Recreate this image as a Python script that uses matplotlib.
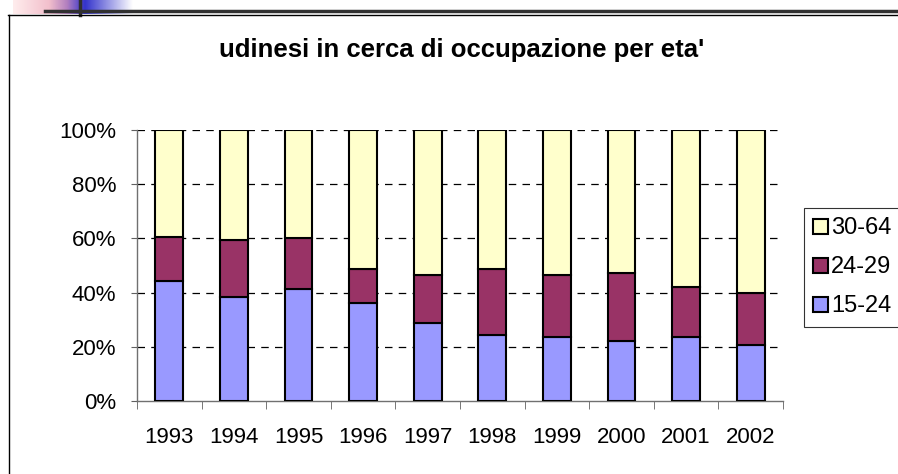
import numpy as np
import matplotlib
matplotlib.use("Agg")
import matplotlib.pyplot as plt
from matplotlib.lines import Line2D
from matplotlib.patches import Patch

plt.rcParams['font.family'] = ['Liberation Sans', 'DejaVu Sans']

years = ['1993', '1994', '1995', '1996', '1997', '1998', '1999', '2000', '2001', '2002']
# cumulative tops (percent)
top_15_24 = [44.2, 38.3, 41.2, 36.2, 28.6, 24.3, 23.6, 22.1, 23.6, 20.6]
top_24_29 = [60.6, 59.3, 60.0, 48.8, 46.6, 48.8, 46.6, 47.2, 42.1, 39.9]
s15 = np.array(top_15_24)
s24 = np.array(top_24_29) - s15
s30 = 100.0 - np.array(top_24_29)

series = ['15-24', '24-29', '30-64']
colors = ['#9999FF', '#993366', '#FFFFCC']

W, H = 898, 474
fig = plt.figure(figsize=(W / 100, H / 100), dpi=100)

# slide decoration at the top
grad = fig.add_axes([13 / W, 1 - 14 / H, 120 / W, 14 / H])
xs = np.linspace(0, 1, 200)
r = np.interp(xs, [0, 0.3, 0.45, 0.6, 0.8, 1.0], [1.0, 0.95, 0.7, 0.2, 0.6, 1.0])
g = np.interp(xs, [0, 0.3, 0.45, 0.6, 0.8, 1.0], [0.93, 0.75, 0.5, 0.2, 0.6, 1.0])
b = np.interp(xs, [0, 0.3, 0.45, 0.6, 0.8, 1.0], [0.93, 0.8, 0.75, 0.8, 0.9, 1.0])
grad.imshow(np.stack([r, g, b], axis=-1)[None, :, :].repeat(2, axis=0), aspect='auto')
grad.axis('off')
fig.add_artist(Line2D([45 / W, 1], [1 - 11 / H] * 2, color='#303030', lw=2.5))
fig.add_artist(Line2D([80 / W] * 2, [1, 1 - 15 / H], color='#303030', lw=2.5))
# chart frame
fig.add_artist(Line2D([8 / W, 1], [1 - 14.5 / H] * 2, color='black', lw=1))
fig.add_artist(Line2D([8.5 / W] * 2, [1 - 14.5 / H, 0], color='black', lw=1))

ax = fig.add_axes([137 / W, 1 - 401 / H, (783 - 137) / W, (401 - 130) / H])
x = np.arange(len(years))
bw = 0.43
ax.bar(x, s15, bw, color=colors[0], edgecolor='black', lw=1.5, zorder=3)
ax.bar(x, s24, bw, bottom=s15, color=colors[1], edgecolor='black', lw=1.5, zorder=3)
ax.bar(x, s30, bw, bottom=np.array(top_24_29), color=colors[2], edgecolor='black', lw=1.5, zorder=3)

ax.set_xlim(-0.5, len(years) - 0.5)
ax.set_ylim(0, 100)
ax.set_yticks(np.arange(0, 101, 20))
ax.set_yticklabels([f'{v}%' for v in range(0, 101, 20)], fontsize=16)
ax.set_xticks(x)
ax.set_xticklabels(years, fontsize=16)
ax.set_xticks(np.arange(-0.5, len(years)), minor=True)
ax.tick_params(axis='x', which='major', length=0, pad=19)
ax.tick_params(axis='x', which='minor', length=6, color='#606060', direction='out')
ax.tick_params(axis='y', length=4, color='#606060', pad=11)
for yv in range(20, 101, 20):
    ax.axhline(yv, color='black', lw=0.9, ls=(0, (6, 5)), zorder=1)
for s in ['top', 'right']:
    ax.spines[s].set_visible(False)
for s in ['left', 'bottom']:
    ax.spines[s].set_color('#707070')
    ax.spines[s].set_linewidth(1)

fig.text(462 / W, 1 - 50 / H, "udinesi in cerca di occupazione per eta'",
         ha='center', va='center', fontsize=18.5, fontweight='bold')

handles = [Patch(facecolor=colors[i], edgecolor='black', lw=1.5, label=series[i]) for i in (2, 1, 0)]
leg = fig.legend(handles=handles, loc='upper left', bbox_to_anchor=(804 / W, 1 - 208 / H),
                 fontsize=17, frameon=True, fancybox=False, edgecolor='black',
                 handlelength=0.6, handleheight=0.6, handletextpad=0.15,
                 borderpad=0.4, labelspacing=0.72, borderaxespad=0)
leg.get_frame().set_linewidth(0.8)

fig.savefig('out.png', dpi=100)
